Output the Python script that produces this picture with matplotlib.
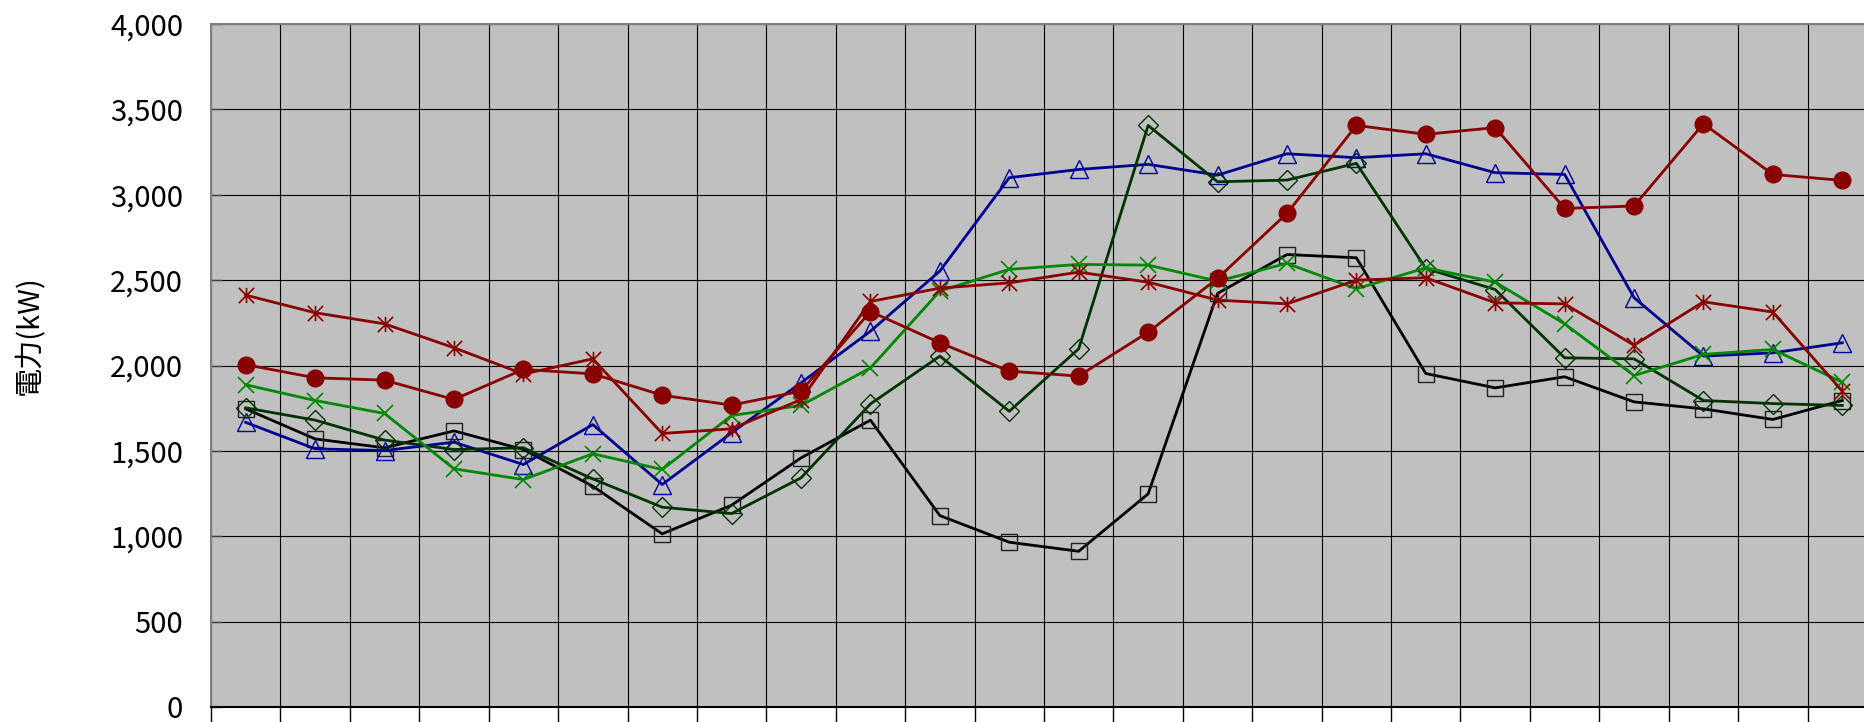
import numpy as np
import matplotlib.pyplot as plt
from matplotlib.path import Path

plt.rcParams['font.family'] = ['Noto Sans CJK JP', 'DejaVu Sans']

hours = list(range(24))

# 電力 (kW), one list per line
s_circle = [2005, 1928, 1914, 1801, 1977, 1951, 1826, 1768, 1850, 2316, 2133, 1967,
            1938, 2195, 2510, 2891, 3406, 3354, 3393, 2920, 2934, 3416, 3119, 3084]
s_star = [2412, 2309, 2244, 2104, 1950, 2039, 1602, 1629, 1800, 2375, 2453, 2484,
          2547, 2488, 2383, 2361, 2500, 2514, 2367, 2361, 2119, 2373, 2313, 1850]
s_cross = [1887, 1795, 1719, 1395, 1332, 1483, 1391, 1707, 1766, 1986, 2436, 2563,
           2592, 2588, 2494, 2598, 2449, 2572, 2488, 2244, 1941, 2065, 2094, 1902]
s_diamond = [1752, 1680, 1563, 1508, 1518, 1336, 1170, 1133, 1342, 1775, 2055, 1732,
             2098, 3406, 3076, 3086, 3184, 2568, 2445, 2045, 2039, 1795, 1777, 1766]
s_tri = [1667, 1512, 1502, 1551, 1420, 1654, 1303, 1606, 1899, 2201, 2553, 3100,
         3148, 3178, 3115, 3240, 3217, 3240, 3129, 3119, 2397, 2055, 2074, 2133]
s_square = [1746, 1570, 1518, 1617, 1508, 1293, 1014, 1182, 1459, 1680, 1121, 965,
            912, 1248, 2422, 2650, 2631, 1953, 1869, 1934, 1787, 1746, 1684, 1795]

yticks = [0, 500, 1000, 1500, 2000, 2500, 3000, 3500, 4000]

# excel style asterisk: X plus a vertical bar
star = Path([(0, -1), (0, 1), (-1, -1), (1, 1), (-1, 1), (1, -1)],
            [Path.MOVETO, Path.LINETO, Path.MOVETO, Path.LINETO, Path.MOVETO, Path.LINETO])

fig = plt.figure(figsize=(18.65, 7.22), dpi=100)
ax = fig.add_axes([211 / 1865, 15 / 722, 1666 / 1865, 683 / 722])
ax.set_facecolor('#C0C0C0')

ax.plot(hours, s_square, color='black', lw=2, marker='s', ms=12,
        mfc='none', mec='#202020', mew=1.0, zorder=3)
ax.plot(hours, s_tri, color='#000090', lw=2, marker='^', ms=13,
        mfc='none', mec='#0000A0', mew=1.0, zorder=3)
ax.plot(hours, s_diamond, color='#003300', lw=2, marker='D', ms=10,
        mfc='none', mec='#003300', mew=1.0, zorder=3)
ax.plot(hours, s_cross, color='#008800', lw=2, marker='x', ms=12,
        mec='#008800', mew=1.2, zorder=3)
ax.plot(hours, s_star, color='#880000', lw=2, marker=star, ms=11,
        mfc='none', mec='#880000', mew=1.2, zorder=3)
ax.plot(hours, s_circle, color='#880000', lw=2, marker='o', ms=12,
        mfc='#880000', mec='#880000', zorder=3)

ax.set_xlim(-0.5, 23.5)
ax.set_ylim(0, 4000)
ax.set_yticks(yticks)
ax.set_yticklabels([f'{v:,}' for v in yticks], fontsize=21)
ax.tick_params(axis='y', direction='in', length=8, width=1, color='#404040', pad=20)

ax.set_xticks(np.arange(-0.5, 24, 1))
ax.set_xticklabels([])
ax.tick_params(axis='x', direction='out', length=20, width=1, color='black')

ax.grid(True, color='black', lw=0.8, zorder=1)
ax.set_axisbelow(True)

for side in ['left', 'top', 'right']:
    ax.spines[side].set_color('#808080')
    ax.spines[side].set_linewidth(1.5)
ax.spines['bottom'].set_color('black')
ax.spines['bottom'].set_linewidth(1.5)

fig.text(30 / 1865, 1 - 335 / 722, '電力(kW)', rotation=90, fontsize=21,
         ha='center', va='center')

fig.savefig('out.png', dpi=100)
